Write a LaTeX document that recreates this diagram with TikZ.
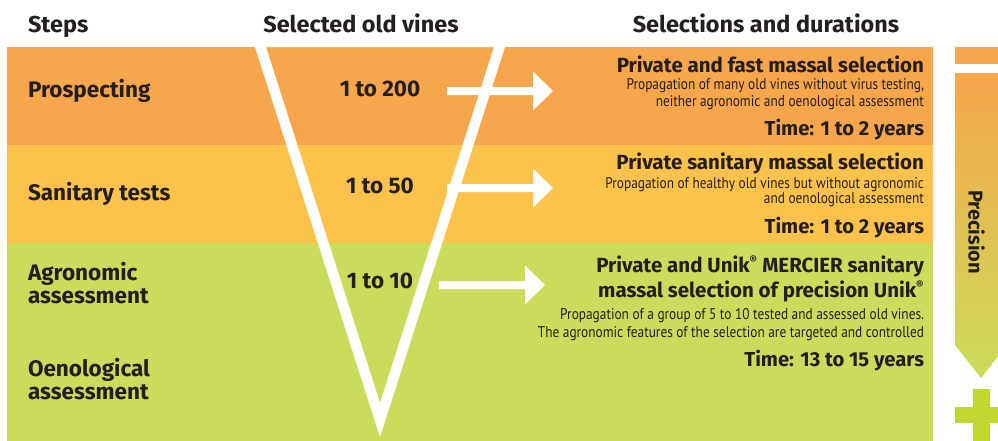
\documentclass[tikz,border=0pt]{standalone}
\usepackage{fontspec}
\setmainfont{Fira Sans}
\newfontfamily\condfont[FakeStretch=0.86]{PT Sans}
\newfontfamily\headfont[FakeStretch=1.02]{Fira Sans}
\definecolor{bandO}{HTML}{F8A64B}
\definecolor{bandY}{HTML}{FDC24C}
\definecolor{bandG}{HTML}{CBDC5D}
\definecolor{plusG}{HTML}{BFD730}
\definecolor{ink}{HTML}{231F20}
\begin{document}
\begin{tikzpicture}[x=1pt,y=-1pt,
  every node/.style={inner sep=0pt,outer sep=0pt,text=ink},
  hdr/.style={font=\headfont\bfseries\fontsize{23}{24}\selectfont},
  stepname/.style={font=\bfseries\fontsize{22.5}{24}\selectfont,anchor=base west},
  count/.style={font=\bfseries\fontsize{22.5}{24}\selectfont,anchor=base},
  seltitle/.style={font=\bfseries\fontsize{20.5}{22}\selectfont,anchor=base east},
  seldesc/.style={font=\condfont\fontsize{15.5}{17.5}\selectfont,anchor=base east},
  seltime/.style={font=\bfseries\fontsize{20.2}{22}\selectfont,anchor=base east},
  blockarrow/.style={fill=white}]
\useasboundingbox (0,0) rectangle (998,440);
\begin{scope}
\clip (0,0) rectangle (998,440);
% bands
\fill[bandO] (7,47) rectangle (933,145);
\fill[bandY] (7,145) rectangle (933,243);
\fill[bandG] (7,243) rectangle (933,445);
% V funnel
\fill[white,even odd rule] (255,47) -- (505,47) -- (380,437) -- cycle
  (266,47) -- (494,47) -- (380,403) -- cycle;
% block arrows
\coordinate (a1) at (447,91);
\coordinate (a2) at (447,188);
\coordinate (a3) at (439,285);
\foreach \c in {a1,a2,a3}{
  \fill[blockarrow] (\c) ++(0,-4) -- ++(86,0) -- ++(0,-15.5) -- ++(20,19.5)
    -- ++(-20,19.5) -- ++(0,-15.5) -- ++(-86,0) -- cycle;
}
% precision bar
\fill[bandO] (955,47) rectangle (1007,64);
\shade[top color=bandO,middle color=bandY,bottom color=bandG!90!plusG]
  (955,73) -- (1007,73) -- (1007,345) -- (981,378) -- (955,345) -- cycle;
\fill[plusG] (973,389) rectangle (990,448);
\fill[plusG] (955,407) rectangle (1007,423);
\end{scope}
\node[font=\bfseries\fontsize{20}{21}\selectfont,rotate=-90] (prec) at (976.5,232) {Precision};
% headers
\node[hdr,anchor=base west] (hSteps) at (28,32) {Steps};
\node[hdr,anchor=base] (hVines) at (361,32) {Selected old vines};
\node[hdr,anchor=base] (hSel) at (766,32) {Selections and durations};
% steps
\node[stepname] (s1) at (28,97) {Prospecting};
\node[stepname] (s2) at (28,200) {Sanitary tests};
\node[stepname] (s3a) at (28,280) {Agronomic};
\node[stepname] (s3b) at (28,303) {assessment};
\node[stepname] (s4a) at (28,376) {Oenological};
\node[stepname] (s4b) at (28,399) {assessment};
% counts
\node[count] (c1) at (380,96) {1 to 200};
\node[count] (c2) at (380,193) {1 to 50};
\node[count] (c3) at (380,288) {1 to 10};
% selections
\node[seltitle] (t1) at (924,72) {Private and fast massal selection};
\node[seldesc] (d1a) at (924,89) {Propagation of many old vines without virus testing,};
\node[seldesc] (d1b) at (924,106) {neither agronomic and oenological assessment};
\node[seltime] (y1) at (924,135) {Time: 1 to 2 years};
\node[seltitle] (t2) at (924,169) {Private sanitary massal selection};
\node[seldesc] (d2a) at (924,188) {Propagation of healthy old vines but without agronomic};
\node[seldesc] (d2b) at (924,203) {and oenological assessment};
\node[seltime] (y2) at (924,233) {Time: 1 to 2 years};
\node[seltitle] (t3a) at (924,272) {Private and Unik\textsuperscript{\fontsize{11.5}{11}\selectfont\textregistered} MERCIER sanitary};
\node[seltitle] (t3b) at (924,297) {massal selection of precision Unik\textsuperscript{\fontsize{11.5}{11}\selectfont\textregistered}};
\node[seldesc] (d3a) at (924,319) {Propagation of a group of 5 to 10 tested and assessed old vines.};
\node[seldesc] (d3b) at (924,337) {The agronomic features of the selection are targeted and controlled};
\node[seltime] (y3) at (924,366) {Time: 13 to 15 years};
\end{tikzpicture}
\end{document}
